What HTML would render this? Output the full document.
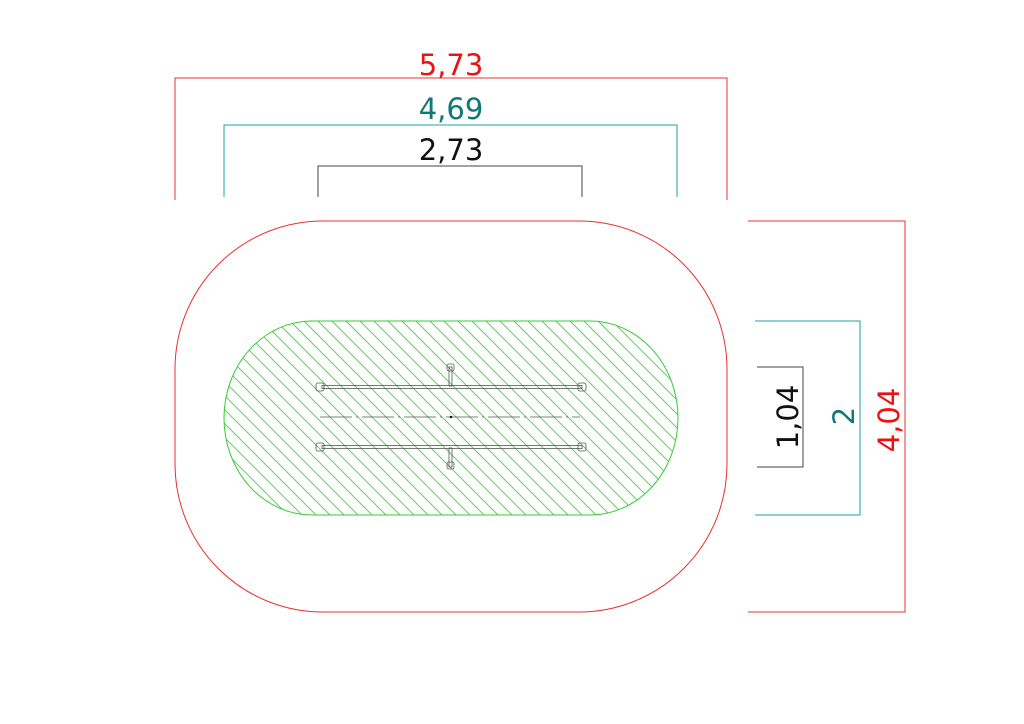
<!DOCTYPE html>
<html><head><style>body{margin:0;background:#fff}svg{display:block}</style></head><body>
<svg width="1024" height="724" xmlns="http://www.w3.org/2000/svg" font-family="'DejaVu Sans', 'Liberation Sans', sans-serif">
<defs>
<clipPath id="c"><rect x="224" y="321" width="454" height="194" rx="88" ry="97"/></clipPath>
</defs>
<rect width="1024" height="724" fill="#fff"/>
<rect x="175" y="221" width="552" height="391" rx="148" ry="148" fill="none" stroke="#e83030" stroke-width="1"/>
<g clip-path="url(#c)" stroke="#33dd33" stroke-width="0.9">
<path d="M24 321l194 194M38 321l194 194M52 321l194 194M66 321l194 194M80 321l194 194M94 321l194 194M108 321l194 194M122 321l194 194M136 321l194 194M150 321l194 194M164 321l194 194M178 321l194 194M192 321l194 194M206 321l194 194M220 321l194 194M234 321l194 194M248 321l194 194M262 321l194 194M276 321l194 194M290 321l194 194M304 321l194 194M318 321l194 194M332 321l194 194M346 321l194 194M360 321l194 194M374 321l194 194M388 321l194 194M402 321l194 194M416 321l194 194M430 321l194 194M444 321l194 194M458 321l194 194M472 321l194 194M486 321l194 194M500 321l194 194M514 321l194 194M528 321l194 194M542 321l194 194M556 321l194 194M570 321l194 194M584 321l194 194M598 321l194 194M612 321l194 194M626 321l194 194M640 321l194 194M654 321l194 194M668 321l194 194"/>
</g>
<rect x="224" y="321" width="454" height="194" rx="88" ry="97" fill="none" stroke="#33cc33" stroke-width="1"/>
<g stroke="#555" stroke-width="0.8" fill="none">
<rect x="322" y="385.5" width="260" height="3"/>
<rect x="322" y="445.5" width="260" height="3"/>
<rect x="316" y="383" width="8" height="8" rx="2"/>
<rect x="578" y="383" width="8" height="8" rx="2"/>
<rect x="316" y="443" width="8" height="8" rx="2"/>
<rect x="578" y="443" width="8" height="8" rx="2"/>
<rect x="449" y="367" width="3" height="19"/>
<rect x="449" y="448" width="3" height="19"/>
<rect x="447" y="364" width="7" height="7" rx="2"/>
<rect x="447" y="462" width="7" height="7" rx="2"/>
<line x1="320" y1="417" x2="580" y2="417" stroke-dasharray="32,4,2,4"/>
</g>
<circle cx="451" cy="417" r="1.2" fill="#000"/>
<g fill="none" stroke-width="1">
<path d="M175 200V78H727V200" stroke="#e83030"/>
<path d="M224 197V125H677V197" stroke="#20a0a0"/>
<path d="M318 197V166H582V197" stroke="#444"/>
<path d="M748 221H905V612H748" stroke="#e83030"/>
<path d="M755 321H860V515H755" stroke="#20a0a0"/>
<path d="M757 367H803V467H757" stroke="#444"/>
</g>
<g font-size="29" text-anchor="middle">
<text x="451" y="75" fill="#ee1111">5,73</text>
<text x="451" y="119" fill="#107878">4,69</text>
<text x="451" y="160" fill="#111">2,73</text>
<text transform="translate(899 420) rotate(-90)" fill="#ee1111">4,04</text>
<text transform="translate(854 416) rotate(-90)" fill="#107878">2</text>
<text transform="translate(798 417) rotate(-90)" fill="#111">1,04</text>
</g>
</svg>
</body></html>
